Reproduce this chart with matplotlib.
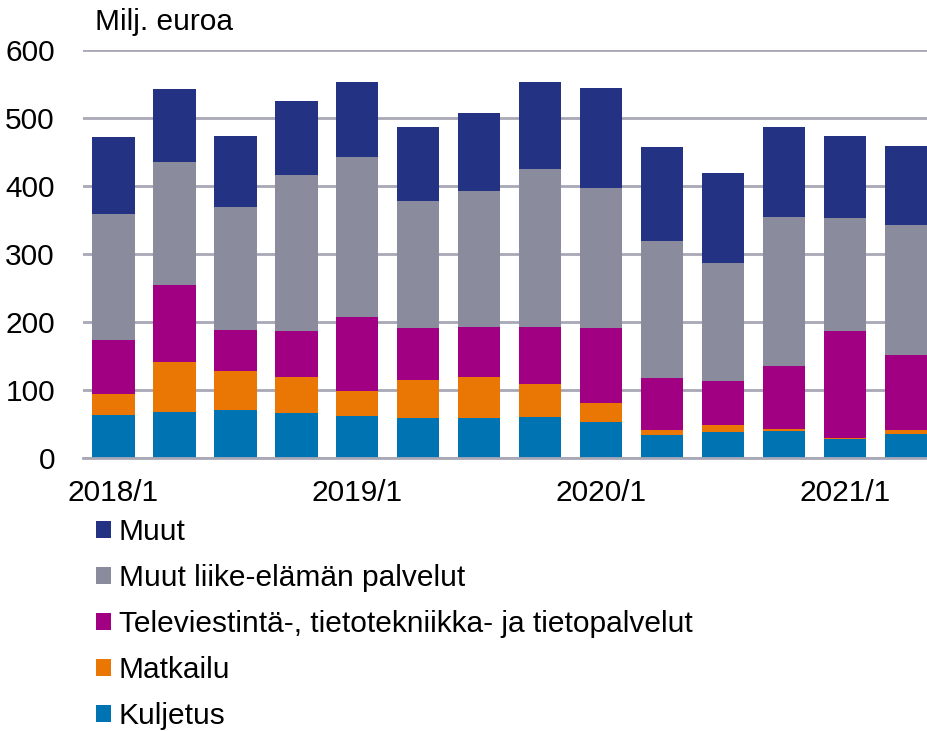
import numpy as np
import matplotlib
matplotlib.use("Agg")
import matplotlib.pyplot as plt
from matplotlib.patches import Patch

plt.rcParams['font.family'] = ['Liberation Sans', 'DejaVu Sans']

quarters = ['2018/1', '2018/2', '2018/3', '2018/4',
            '2019/1', '2019/2', '2019/3', '2019/4',
            '2020/1', '2020/2', '2020/3', '2020/4',
            '2021/1', '2021/2']

kuljetus = [62.7, 67.2, 70.1, 65.7, 61.3, 58.3, 58.3, 59.8, 52.5, 33.3, 37.7, 39.2, 27.5, 34.8]
matkailu = [30.9, 73.5, 57.4, 52.9, 36.7, 55.9, 60.3, 48.5, 27.9, 7.4, 10.3, 3.0, 1.4, 5.9]
tele = [79.4, 113.2, 60.2, 67.7, 108.9, 76.5, 73.6, 83.9, 110.3, 76.5, 64.7, 92.6, 157.4, 110.3]
liike = [185.3, 180.9, 180.9, 229.4, 235.3, 186.8, 200.0, 232.3, 205.9, 201.4, 173.6, 219.1, 166.2, 191.2]
muut = [113.3, 107.2, 104.4, 108.8, 110.3, 108.8, 114.7, 128.0, 147.0, 138.3, 132.3, 132.4, 120.5, 116.1]

series = [
    ('Kuljetus', kuljetus, '#0074B3'),
    ('Matkailu', matkailu, '#EA7603'),
    ('Televiestintä-, tietotekniikka- ja tietopalvelut', tele, '#A20082'),
    ('Muut liike-elämän palvelut', liike, '#8B8B9E'),
    ('Muut', muut, '#243283'),
]

fs = 21.5
W, H = 928, 731
fig = plt.figure(figsize=(W / 100, H / 100), dpi=100)
ax = fig.add_axes([82.7 / W, 1 - 458 / H, 1 - 82.7 / W, (458 - 50) / H])

x = np.arange(len(quarters))
bottom = np.zeros(len(quarters))
for name, vals, col in series:
    ax.bar(x, vals, 0.7, bottom=bottom, color=col, zorder=3)
    bottom += np.array(vals)

ax.set_ylim(0, 600)
ax.set_xlim(-0.5, 13.36)
ax.set_yticks(range(0, 601, 100))
ax.yaxis.grid(True, color='#A8A8B6', linewidth=2, zorder=0)
for s in ['top', 'right', 'left']:
    ax.spines[s].set_visible(False)
ax.spines['bottom'].set_color('#A8A8B6')
ax.spines['bottom'].set_linewidth(2)
ax.spines['bottom'].set_zorder(4)

tick_pos = [0, 4, 8, 12]
ax.set_xticks(tick_pos)
ax.set_xticklabels([quarters[i] for i in tick_pos])
ax.tick_params(axis='both', length=0, labelsize=fs)
ax.tick_params(axis='y', pad=20)
ax.tick_params(axis='x', pad=15)

fig.text(95 / W, 1 - 22 / H, 'Milj. euroa', fontsize=fs, va='center', ha='left')

handles = [Patch(facecolor=col, label=name) for name, vals, col in reversed(series)]
fig.legend(handles=handles, loc='upper left', bbox_to_anchor=(96 / W, 1 - 518 / H),
           frameon=False, fontsize=fs, borderpad=0, borderaxespad=0,
           handlelength=0.5, handleheight=0.5, handletextpad=0.27,
           labelspacing=0.6)

fig.savefig('out.png', dpi=100)
